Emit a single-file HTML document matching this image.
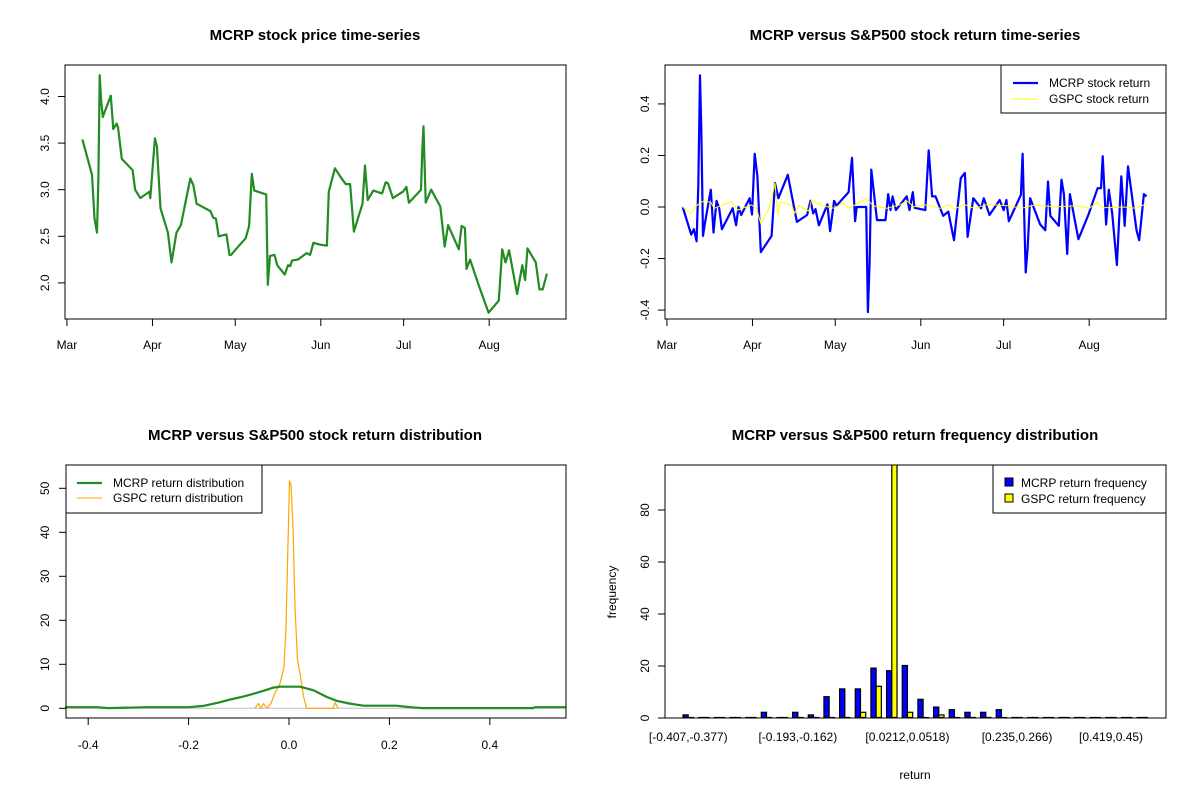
<!DOCTYPE html>
<html><head><meta charset="utf-8"><style>
body{margin:0;background:#fff;}
svg{display:block;font-family:"Liberation Sans",Arial,sans-serif;}
</style></head><body>
<svg id="chart" width="1200" height="800" viewBox="0 0 1200 800" xmlns="http://www.w3.org/2000/svg"></svg>
<script>
// ---- data ----
const monthLabels=["Mar","Apr","May","Jun","Jul","Aug"];
const monthDays=[0,31,61,92,122,153];
const priceDays=[5.6,9.1,10,10.9,11.4,11.9,12.4,13,15.9,16.8,18,18.5,19.9,23.8,24.7,26.6,29.9,30.2,31.9,32.6,33.9,36.6,37.9,39.7,41.3,44.7,45.8,47,52,53,54,55,57.8,58.9,59.5,61.2,64.8,66,67,67.9,72.2,72.8,73.6,75.2,76.2,78.9,80.1,80.9,81.6,83.7,86.9,88.1,89.3,91.8,94.2,94.9,97.1,99.1,101,102.6,104,107.1,108,109,111,114.2,115.5,116.3,118.1,121.8,123,123.9,128.3,128.8,129.2,130,132,135.3,136.9,138.1,142,143,144.2,144.8,146.1,149.4,152.8,156.5,157.7,158.9,160.2,163.1,165,166,166.9,169.9,171.2,172.4,173.9];
const priceVals=[3.54,3.16,2.69,2.54,3.12,4.23,3.96,3.78,4.01,3.65,3.71,3.67,3.33,3.21,3.00,2.91,2.98,2.91,3.55,3.47,2.80,2.54,2.22,2.54,2.62,3.12,3.05,2.85,2.77,2.70,2.69,2.50,2.52,2.30,2.30,2.36,2.48,2.61,3.17,2.99,2.95,1.98,2.29,2.30,2.19,2.09,2.19,2.18,2.24,2.25,2.32,2.30,2.43,2.41,2.40,2.98,3.23,3.14,3.06,3.06,2.55,2.85,3.26,2.89,2.99,2.96,3.08,3.07,2.91,2.98,3.03,2.86,3.00,3.45,3.68,2.86,3.00,2.82,2.39,2.62,2.36,2.61,2.59,2.15,2.25,1.96,1.68,1.81,2.36,2.22,2.35,1.88,2.19,2.03,2.37,2.22,1.93,1.93,2.10];
const retZoomX=[97,122,130,138,143,148,152,157,162,180,188,197,205,213,245,255,262,270,295,302,310,318,328,360,370,380,408,435,465,475,483,490,500,525,533,545,552,588,598,607,612,640,645,650,655,672,697,705,712,718,728,760,768,778,783,815,825,835,845,868,883,900,920,932,940,957,980,988,1005,1035,1047,1055,1062,1098,1103,1112,1118,1125,1155,1170,1178,1185,1210,1218,1225,1235,1243,1268,1298,1325,1335,1340,1350,1358,1368,1382,1395,1405,1415,1440,1448,1462,1470];
const mcrpRet=[0,-0.107,-0.086,-0.133,0.084,0.511,0.302,-0.112,-0.068,0.067,-0.099,0.024,-0.005,-0.086,-0.005,-0.071,0,-0.031,0.034,-0.029,0.207,0.119,-0.175,-0.112,0.093,0.034,0.125,-0.058,-0.031,0.024,-0.025,-0.008,-0.071,0.010,-0.094,0.024,0.005,0.058,0.191,-0.055,0,0,-0.408,-0.214,0.145,-0.051,-0.051,0.050,-0.012,0.041,-0.012,0.041,-0.012,0.058,-0.003,-0.012,0.220,0.041,0.041,-0.034,-0.018,-0.129,0.112,0.132,-0.116,0.034,-0.005,0.034,-0.031,0.027,-0.012,0.027,-0.055,0.047,0.207,-0.254,-0.156,0.034,-0.068,-0.090,0.099,-0.034,-0.073,0.106,0.050,-0.182,0.050,-0.125,-0.029,0.073,0.073,0.197,-0.068,0.067,-0.025,-0.225,0.119,-0.073,0.158,-0.090,-0.129,0.050,0.041];
const gspcZoomX=[97,120,140,160,180,190,210,240,260,300,315,328,355,370,378,385,420,428,440,470,478,510,545,570,590,640,660,700,740,760,780,820,860,885,900,930,960,1000,1060,1100,1140,1200,1260,1300,1325,1340,1400,1440,1470];
const gspcRet=[0,-0.025,0.008,0.024,0.018,-0.005,0.005,0.021,-0.012,0.008,-0.005,-0.064,0.001,0.093,-0.031,0.021,0.005,-0.025,0.005,-0.016,0.027,0.005,-0.005,0.014,-0.005,0.034,0.005,-0.005,0.008,0.024,0.001,0.008,-0.005,0.010,-0.009,0.010,-0.005,0.010,0.005,-0.005,0.008,0,0.005,-0.005,0.018,-0.003,0,-0.005,0.014];
const densX=[-0.446,-0.383,-0.36,-0.283,-0.2,-0.171,-0.14,-0.117,-0.09,-0.071,-0.05,-0.031,-0.018,0.022,0.049,0.075,0.095,0.12,0.148,0.214,0.241,0.267,0.486,0.49,0.552];
const mcrpDens=[0.25,0.25,0.05,0.25,0.25,0.55,1.3,2.0,2.7,3.3,4.0,4.7,4.9,4.9,4.1,2.6,1.7,1.1,0.6,0.6,0.25,0.05,0.05,0.25,0.25];
const gspcDX=[-0.068,-0.061,-0.056,-0.051,-0.044,-0.036,-0.028,-0.018,-0.010,-0.006,-0.002,0.001,0.004,0.008,0.012,0.017,0.022,0.029,0.035,0.088,0.092,0.098];
const gspcDens=[0,1.1,0,1.1,0,1.1,3.4,5.6,9.4,18.5,37.4,51.7,50.7,41.2,23.0,10.9,7.9,2.6,0,0,1.3,0];
const binLabels=["[-0.407,-0.377)","[-0.193,-0.162)","[0.0212,0.0518)","[0.235,0.266)","[0.419,0.45)"];
const binLabelIdx=[0,7,14,21,27];
const mcrpFreq=[1,0,0,0,0,2,0,2,1,8,11,11,19,18,20,7,4,3,2,2,3,0,0,0,0,0,0,0,0,0];
const gspcFreq=[0,0,0,0,0,0,0,0,0,0,0,2,12,98,2,0,1,0,0,0,0,0,0,0,0,0,0,0,0,0];

// ---- helpers ----
const svg=document.getElementById('chart');
const NS="http://www.w3.org/2000/svg";
function mk(tag,attrs,parent){const e=document.createElementNS(NS,tag);for(const k in attrs)e.setAttribute(k,attrs[k]);(parent||svg).appendChild(e);return e;}
function txt(s,x,y,size,anchor,parent,rot,bold){const t=mk('text',{x:x,y:y,'font-size':size,'text-anchor':anchor||'middle',fill:'#000'},parent);if(bold)t.setAttribute('font-weight','bold');if(rot)t.setAttribute('transform','rotate(-90 '+x+' '+y+')');t.textContent=s;return t;}
function poly(xs,ys,color,w,parent){return mk('polyline',{points:xs.map((x,i)=>x.toFixed(1)+','+ys[i].toFixed(1)).join(' '),fill:'none',stroke:color,'stroke-width':w,'stroke-linejoin':'round'},parent);}

// ===== Panel 1: price =====
const g1=mk('g',{});


const dx1=d=>66.9+d*2.76;
const py1=v=>282.9-(v-2.0)*93.2;
let t=txt("MCRP stock price time-series",315,40,15,'middle',g1,false,true);

let l1=poly(priceDays.map(dx1),priceVals.map(py1),'#228B22',2.2,g1);

let b1=mk('rect',{x:65,y:65,width:501,height:254,fill:'none',stroke:'#000','stroke-width':1},g1);

["2.0","2.5","3.0","3.5","4.0"].forEach(s=>{const y=py1(parseFloat(s));mk('line',{x1:58,x2:65,y1:y,y2:y,stroke:'#000'},g1);const tt=txt(s,49,y,12,'middle',g1,true);});
monthLabels.forEach((m,i)=>{const x=dx1(monthDays[i]);mk('line',{x1:x,x2:x,y1:319,y2:326,stroke:'#000'},g1);const tt=txt(m,x,349,12,'middle',g1);});

// ===== Panel 2: returns =====
const g2=mk('g',{});


const dx2=zx=>666.9+((zx/3+50)-66.7)/2.723*2.76;
const py2=v=>207-v*257.7;
t=txt("MCRP versus S&P500 stock return time-series",915,40,15,'middle',g2,false,true);

let l2=poly(retZoomX.map(dx2),mcrpRet.map(py2),'#0000FF',2.2,g2);

let l3=poly(gspcZoomX.map(dx2),gspcRet.map(py2),'#FFFF00',1,g2);

let b2=mk('rect',{x:665,y:65,width:501,height:254,fill:'none',stroke:'#000'},g2);

["-0.4","-0.2","0.0","0.2","0.4"].forEach(s=>{const y=py2(parseFloat(s));mk('line',{x1:658,x2:665,y1:y,y2:y,stroke:'#000'},g2);const tt=txt(s,649,y,12,'middle',g2,true);});
monthLabels.forEach((m,i)=>{const x=600+dx1(monthDays[i]);mk('line',{x1:x,x2:x,y1:319,y2:326,stroke:'#000'},g2);const tt=txt(m,x,349,12,'middle',g2);});
const lg2=mk('g',{},g2);

mk('rect',{x:1001,y:65,width:165,height:48,fill:'#fff',stroke:'#000'},lg2);
mk('line',{x1:1013,x2:1038,y1:83,y2:83,stroke:'#0000FF','stroke-width':2.2},lg2);
mk('line',{x1:1013,x2:1038,y1:99,y2:99,stroke:'#FFFF00','stroke-width':1},lg2);
txt("MCRP stock return",1049,87,12,'start',lg2);
txt("GSPC stock return",1049,103,12,'start',lg2);

// ===== Panel 3: density =====
const g3=mk('g',{});


const px3=v=>289+v*502;
const py3=v=>708.3-v*4.4;
t=txt("MCRP versus S&P500 stock return distribution",315,440,15,'middle',g3,false,true);

mk('line',{x1:66,x2:566,y1:py3(0),y2:py3(0),stroke:'#BEBEBE'},g3);
let l4=poly(gspcDX.map(px3),gspcDens.map(py3),'#FFA500',1.2,g3);

let l5=poly(densX.map(px3),mcrpDens.map(py3),'#228B22',2.2,g3);

let b3=mk('rect',{x:66,y:465,width:500,height:253,fill:'none',stroke:'#000'},g3);

["0","10","20","30","40","50"].forEach(s=>{const y=py3(parseFloat(s));mk('line',{x1:59,x2:66,y1:y,y2:y,stroke:'#000'},g3);const tt=txt(s,49,y,12,'middle',g3,true);});
["-0.4","-0.2","0.0","0.2","0.4"].forEach(s=>{const x=px3(parseFloat(s));mk('line',{x1:x,x2:x,y1:718,y2:725,stroke:'#000'},g3);const tt=txt(s,x,749,12,'middle',g3);});
const lg3=mk('g',{},g3);

mk('rect',{x:66,y:465,width:196,height:48,fill:'#fff',stroke:'#000'},lg3);
mk('line',{x1:77,x2:102,y1:483,y2:483,stroke:'#228B22','stroke-width':2.2},lg3);
mk('line',{x1:77,x2:102,y1:498,y2:498,stroke:'#FFA500','stroke-width':1},lg3);
txt("MCRP return distribution",113,487,12,'start',lg3);
txt("GSPC return distribution",113,502,12,'start',lg3);

// ===== Panel 4: histogram =====
const g4=mk('g',{});


const unit=15.66/3;
const bx=i=>683+i*15.66;
const py4=v=>718-v*2.6;
t=txt("MCRP versus S&P500 return frequency distribution",915,440,15,'middle',g4,false,true);

const clip=mk('clipPath',{id:'c4'},g4);mk('rect',{x:665,y:465,width:501,height:254},clip);
const bars=mk('g',{'clip-path':'url(#c4)'},g4);
mcrpFreq.forEach((v,i)=>{const r=mk('rect',{x:bx(i),y:py4(v)-0.5,width:unit,height:Math.max(v*2.6,0.01),fill:'#0000FF',stroke:'#000','stroke-width':1.2},bars);});
gspcFreq.forEach((v,i)=>{const r=mk('rect',{x:bx(i)+unit,y:py4(v)-0.5,width:unit,height:Math.max(v*2.6,0.01),fill:'#FFFF00',stroke:'#000','stroke-width':1.2},bars);});
let b4=mk('rect',{x:665,y:465,width:501,height:253,fill:'none',stroke:'#000'},g4);

["0","20","40","60","80"].forEach(s=>{const y=py4(parseFloat(s));mk('line',{x1:658,x2:665,y1:y,y2:y,stroke:'#000'},g4);const tt=txt(s,649,y,12,'middle',g4,true);});
binLabels.forEach((s,k)=>{const x=bx(binLabelIdx[k])+unit;const tt=txt(s,x,741,12,'middle',g4);});
t=txt("return",915,779,12,'middle',g4);
t=txt("frequency",616,592,12,'middle',g4,true);
const lg4=mk('g',{},g4);

mk('rect',{x:993,y:465,width:173,height:48,fill:'#fff',stroke:'#000'},lg4);
mk('rect',{x:1005,y:478,width:8,height:8,fill:'#0000FF',stroke:'#000'},lg4);
mk('rect',{x:1005,y:494,width:8,height:8,fill:'#FFFF00',stroke:'#000'},lg4);
txt("MCRP return frequency",1021,487,12,'start',lg4);
txt("GSPC return frequency",1021,503,12,'start',lg4);
</script>
</body></html>
